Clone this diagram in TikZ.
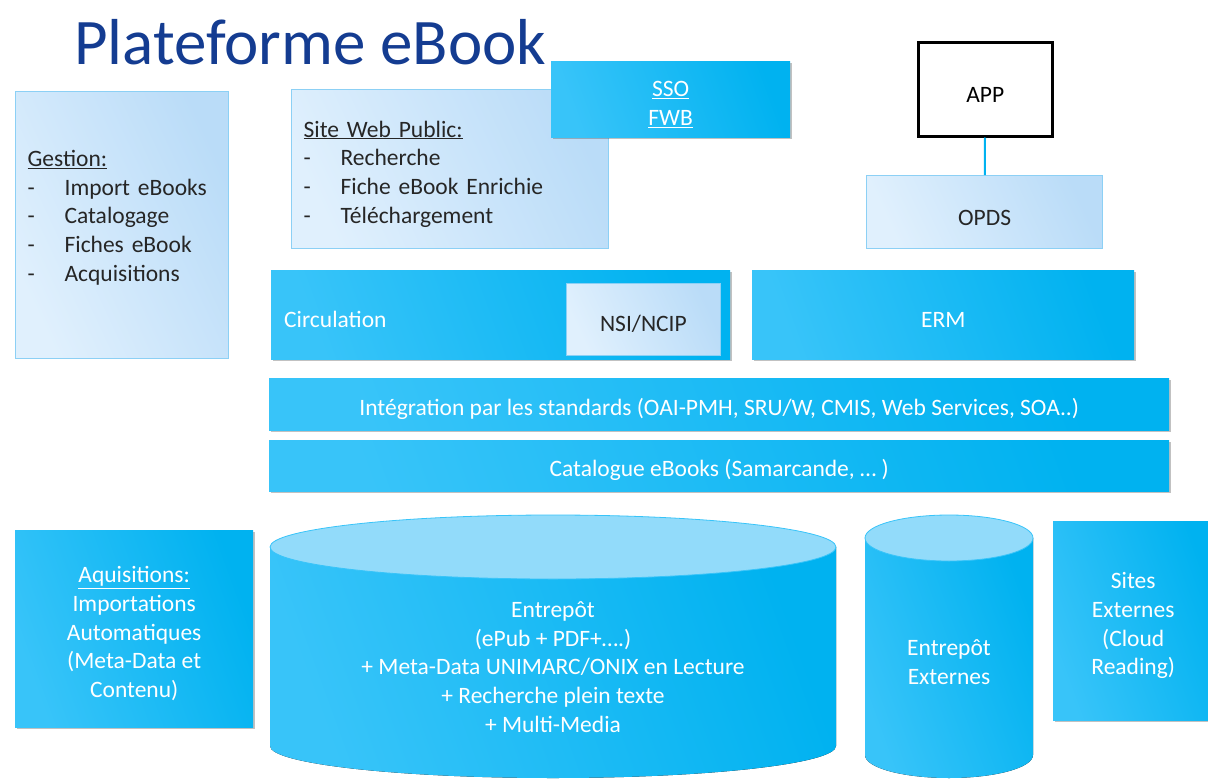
\documentclass[tikz,border=0pt]{standalone}
\usepackage{fontspec}
\setmainfont{Carlito}
\usetikzlibrary{shadows,positioning}
\definecolor{ebkCyan}{RGB}{56,196,249}
\definecolor{ebkCyanDark}{RGB}{0,178,240}
\definecolor{ebkLight}{RGB}{224,240,253}
\definecolor{ebkLightDark}{RGB}{186,220,248}
\definecolor{ebkBorder}{RGB}{140,208,245}
\definecolor{ebkTitle}{RGB}{20,60,145}
\definecolor{ebkTop}{RGB}{146,219,250}

\newcommand{\hautligne}{\rule{0pt}{26pt}}
\newcommand{\tiret}{\makebox[37pt][l]{-}}
\tikzset{
  every node/.style={font=\fontsize{23.5}{28.7}\selectfont},
  lightbox/.style={draw=ebkBorder, line width=1.2pt, left color=ebkLight, right color=ebkLightDark,
    shading angle=115, anchor=north west, inner sep=0pt, text=black!85, execute at begin node=\hautligne},
  cyanbox/.style={left color=ebkCyan, right color=ebkCyanDark, shading angle=110,
    drop shadow={shadow xshift=2pt, shadow yshift=-2pt, opacity=.35, fill=black!70},
    anchor=north west, inner sep=0pt, text=white, execute at begin node=\hautligne},
  cyltext/.style={align=center, text=white},
}

\begin{document}
\begin{tikzpicture}[x=1pt,y=-1pt]
\useasboundingbox (0,0) rectangle (1208,779);

% title
\node[anchor=base west, inner sep=0pt, font=\fontsize{65}{70}\selectfont, text=ebkTitle] (titre) at (74,64) {Plateforme eBook};

% gestion and public site
\node[lightbox, minimum width=213, minimum height=267, text width=189, align=left] (gestion) at (15,91)
  {\underline{Gestion:}\\ \tiret Import eBooks\\ \tiret Catalogage\\ \tiret Fiches eBook\\ \tiret Acquisitions\\ \mbox{}};
\node[lightbox, minimum width=317, minimum height=159, text width=293, align=left] (siteweb) at (291,89)
  {\underline{Site Web Public:}\\ \tiret Recherche\\ \tiret Fiche eBook Enrichie\\ \tiret Téléchargement};
\node[cyanbox, minimum width=239, minimum height=76, align=center] (sso) at (551,61)
  {\hautligne\underline{SSO}\\ \underline{FWB}};

% app and opds
\node[draw=black, line width=2.5pt, fill=white, minimum width=134, minimum height=94, anchor=north west,
  inner sep=0pt, execute at begin node=\hautligne] (app) at (917,41) {APP};
\node[lightbox, minimum width=236, minimum height=73] (opds) at (866,175) {OPDS};
\draw[ebkCyanDark, line width=2pt] (app) -- (opds);

% circulation and erm
\node[cyanbox, minimum width=459, minimum height=89, text width=433, align=left] (circ) at (271,270) {Circulation};
\node[lightbox, line width=.8pt, minimum width=154, minimum height=72] (ncip) at (566,283) {NSI/NCIP};
\node[cyanbox, minimum width=382, minimum height=89] (erm) at (752,270) {ERM};

% the two bars
\foreach \ytop/\h/\nom/\txt in {378/52/integ/{Intégration par les standards (OAI-PMH, SRU/W, CMIS, Web Services, SOA..)},
                                440/51/catal/{Catalogue eBooks (Samarcande, … )}}
  \node[cyanbox, minimum width=900, minimum height=\h] (\nom) at (269,\ytop) {\txt};

% acquisitions and external sites
\node[cyanbox, minimum width=238, minimum height=197, align=center] (aquis) at (15,530)
  {\hautligne\underline{Aquisitions:}\\ Importations\\ Automatiques\\ (Meta-Data et\\ Contenu)};
\node[cyanbox, minimum width=160, minimum height=199, align=center] (sites) at (1053,521)
  {\hautligne Sites\\ Externes\\ (Cloud\\ Reading)};

% draw the cylinders
\foreach \cx/\rx/\ytop/\ybot/\ry in {553/283/547/746/32, 949/84/538/755/23}
{
  \fill[left color=ebkCyan, right color=ebkCyanDark, shading angle=110]
    (\cx-\rx,\ytop) -- (\cx-\rx,\ybot) arc[start angle=180, end angle=0, x radius=\rx, y radius=\ry] -- (\cx+\rx,\ytop) -- cycle;
  \filldraw[fill=ebkTop, draw=ebkCyan, line width=.8pt] (\cx,\ytop) ellipse [x radius=\rx, y radius=\ry];
}
\node[cyltext] (depot) at (553,667)
  {Entrepôt\\ (ePub + PDF+….)\\ + Meta-Data UNIMARC/ONIX en Lecture\\ + Recherche plein texte\\ + Multi-Media};
\node[cyltext] (depotext) at (949,662) {Entrepôt\\ Externes};
\end{tikzpicture}
\end{document}
